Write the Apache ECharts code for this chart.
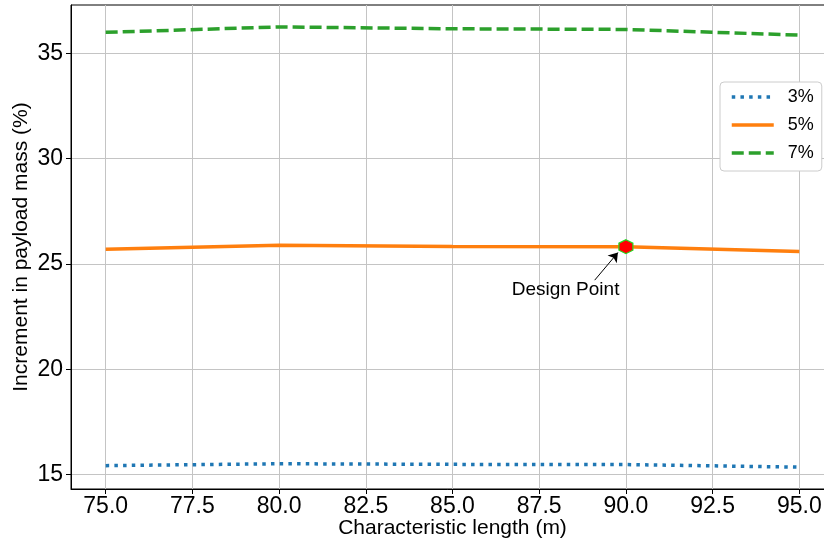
<!DOCTYPE html>
<html>
<head>
<meta charset="utf-8">
<script src="https://cdn.jsdelivr.net/npm/echarts@6/dist/echarts.min.js"></script>
<style>
  html, body { margin: 0; padding: 0; background: #fff; }
  #chart { width: 824px; height: 544px; }
</style>
</head>
<body>
<div id="chart"></div>
<script>
  // characteristic length (m)
  var lengths = [75, 80, 85, 90, 95]
  // increment in payload mass (%)
  var inc3 = [15.42, 15.51, 15.48, 15.47, 15.35]
  var inc5 = [25.70, 25.89, 25.83, 25.82, 25.59]
  var inc7 = [36.00, 36.26, 36.17, 36.14, 35.87]
  var seriesNames = ['3%', '5%', '7%']
  var xTicks = [75, 77.5, 80, 82.5, 85, 87.5, 90, 92.5, 95]
  var yTicks = [15, 20, 25, 30, 35]
  var designPoint = [90, 25.82]
  var noteText = 'Design Point'
  var notePos = [88.26, 23.78]
  var arrowFrom = [89.10, 24.23]
  var arrowTo = [89.77, 25.54]

  var font = 'Liberation Sans, Arial, sans-serif'

  function pairs(xs, ys) {
    return xs.map(function(x, i) { return [x, ys[i]] })
  }

  var chart = echarts.init(document.getElementById('chart'))

  chart.setOption({
    animation: false,
    backgroundColor: '#fff',
    textStyle: { fontFamily: font },
    grid: {
      left: 71,
      top: 5,
      width: 763,
      height: 484,
      show: true,
      borderColor: '#000',
      borderWidth: 1,
      outerBoundsMode: 'none'
    },
    legend: {
      data: seriesNames,
      orient: 'vertical',
      left: 720,
      top: 82,
      padding: [6, 8, 9, 10],
      itemWidth: 42,
      itemHeight: 14,
      itemGap: 10,
      backgroundColor: '#fff',
      borderColor: '#cccccc',
      borderWidth: 1,
      borderRadius: 4,
      itemStyle: { opacity: 0 },
      lineStyle: { width: 3.5 },
      textStyle: { fontSize: 18, color: '#000', fontFamily: font, padding: [0, 0, 0, 9] }
    },
    xAxis: {
      type: 'value',
      min: 74,
      max: 96,
      name: 'Characteristic length (m)',
      nameLocation: 'middle',
      nameGap: 29,
      nameMoveOverlap: false,
      nameTextStyle: { fontSize: 21, color: '#000', fontFamily: font },
      axisLine: { show: true, onZero: false, lineStyle: { color: '#000', width: 1 } },
      axisTick: { show: true, length: 5, inside: false, customValues: xTicks, lineStyle: { color: '#000' } },
      axisLabel: {
        customValues: xTicks,
        fontSize: 23,
        color: '#000',
        margin: 6,
        formatter: function(v) { return v.toFixed(1) }
      },
      splitLine: { show: true, lineStyle: { color: '#c4c4c4', width: 1 } }
    },
    yAxis: {
      type: 'value',
      min: 14.31,
      max: 37.3,
      name: 'Increment in payload mass (%)',
      nameLocation: 'middle',
      nameGap: 39,
      nameMoveOverlap: false,
      nameTextStyle: { fontSize: 21, color: '#000', fontFamily: font },
      axisLine: { show: true, onZero: false, lineStyle: { color: '#000', width: 1 } },
      axisTick: { show: true, length: 5, inside: false, customValues: yTicks, lineStyle: { color: '#000' } },
      axisLabel: {
        customValues: yTicks,
        fontSize: 23,
        color: '#000',
        margin: 8,
        formatter: function(v) { return String(v) }
      },
      splitLine: { show: true, lineStyle: { color: '#c4c4c4', width: 1 } }
    },
    series: [
      {
        name: '3%',
        type: 'line',
        symbol: 'none',
        data: pairs(lengths, inc3),
        lineStyle: { color: '#1f77b4', width: 3.5, type: [3.5, 5.2], cap: 'butt' },
        itemStyle: { color: '#1f77b4' },
        z: 3
      },
      {
        name: '5%',
        type: 'line',
        symbol: 'none',
        data: pairs(lengths, inc5),
        lineStyle: { color: '#ff7f0e', width: 3.5, type: 'solid' },
        itemStyle: { color: '#ff7f0e' },
        z: 3
      },
      {
        name: '7%',
        type: 'line',
        symbol: 'none',
        data: pairs(lengths, inc7),
        lineStyle: { color: '#2ca02c', width: 3.5, type: [12, 5], cap: 'butt' },
        itemStyle: { color: '#2ca02c' },
        z: 3
      },
      {
        name: 'design',
        type: 'scatter',
        symbol: 'path://M0,-1L0.866,-0.5L0.866,0.5L0,1L-0.866,0.5L-0.866,-0.5Z',
        symbolSize: 14,
        data: [designPoint],
        itemStyle: { color: '#ff0000', borderColor: '#22dd22', borderWidth: 1.2, opacity: 1 },
        z: 5,
        markLine: {
          silent: true,
          symbol: ['none', 'arrow'],
          symbolSize: 9,
          label: { show: false },
          lineStyle: { color: '#000', width: 1, type: 'solid' },
          data: [[{ coord: arrowFrom }, { coord: arrowTo }]]
        }
      },
      {
        name: 'note',
        type: 'scatter',
        symbolSize: 1,
        data: [notePos],
        itemStyle: { color: 'rgba(0,0,0,0)', opacity: 1 },
        label: {
          show: true,
          position: 'inside',
          formatter: noteText,
          fontSize: 19,
          color: '#000',
          textBorderWidth: 0,
          fontFamily: font
        },
        z: 6
      }
    ]
  })
</script>
</body>
</html>
